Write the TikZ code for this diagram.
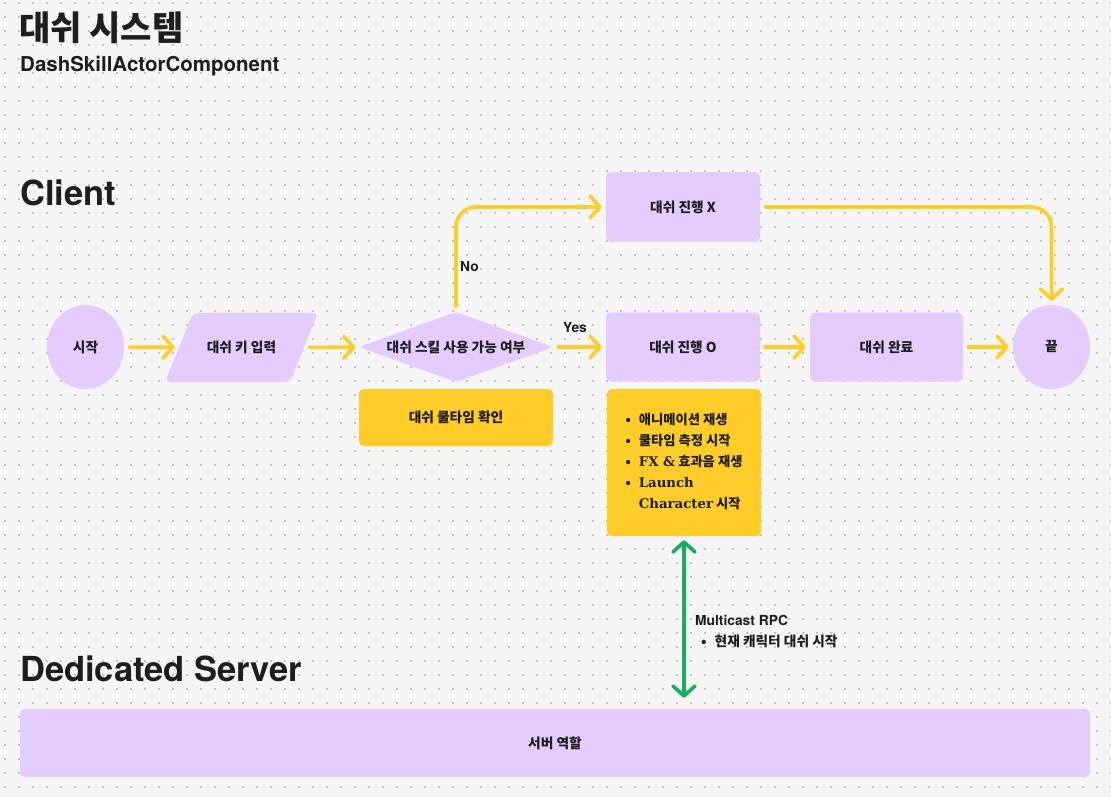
\documentclass[tikz,border=0pt]{standalone}
\usepackage{fontspec}
\setmainfont{Noto Sans CJK KR}
\newfontfamily\latf{TeX Gyre Heros}
\newfontfamily\serf{DejaVu Serif}
\usetikzlibrary{arrows.meta,shapes.geometric,calc}
\definecolor{bgc}{HTML}{F5F5F5}
\definecolor{lil}{HTML}{E4CCFF}
\definecolor{yel}{HTML}{FFCD29}
\definecolor{grn}{HTML}{14AE5C}
\definecolor{ink}{HTML}{1E1E1E}
\definecolor{dotc}{HTML}{C2C2C2}
\begin{document}
\begin{tikzpicture}[x=1pt,y=-1pt,
  lbl/.style={font=\bfseries\fontsize{13.7}{16}\selectfont, text=ink},
  box/.style={lbl, fill=lil, rounded corners=5pt, minimum width=154pt, minimum height=69pt, inner sep=0pt},
  ybox/.style={box, fill=yel},
  oval/.style={lbl, ellipse, fill=lil, minimum width=77pt, minimum height=84pt, inner sep=0pt},
  tip/.style={-{Straight Barb[length=10pt, width=22pt, round]}},
  conn/.style={draw=yel, line width=3.6pt, line cap=round, line join=round, tip, shorten <=5pt, shorten >=4pt},
  gconn/.style={draw=grn, line width=3.6pt, line cap=round, line join=round, {Straight Barb[length=10pt, width=22pt, round]}-{Straight Barb[length=10pt, width=22pt, round]}},
  head/.style={font=\latf\bfseries\fontsize{34.5}{38}\selectfont, text=ink, inner sep=0pt, anchor=base west},
  small/.style={font=\latf\bfseries\fontsize{13.8}{16}\selectfont, text=ink, inner sep=0pt, anchor=base west},
]
\useasboundingbox (0,0) rectangle (1111,797);
\fill[bgc] (0,0) rectangle (1111,797);
\foreach \j in {0,...,56} {
  \fill[dotc] \foreach \i in {0,...,79} { (4.2+14*\i, 2.2+14*\j) rectangle ++(1.6,1.6) };
}

% titles
\node[font=\bfseries\fontsize{34}{38}\selectfont, text=ink, inner sep=0pt, anchor=west] (title) at (19,28) {대쉬 시스템};
\node[font=\latf\bfseries\fontsize{20.5}{24}\selectfont, text=ink, inner sep=0pt, anchor=base west] (sub) at (20,72) {DashSkillActorComponent};
\node[head] (client) at (20,205) {Client};
\node[head] (server) at (20,681) {Dedicated Server};

% nodes
\node[oval] (start) at (85.5,347) {시작};
\fill[lil, rounded corners=5pt] (193,313) -- (318,313) -- (290,382) -- (165,382) -- cycle;
\node[lbl, minimum width=125pt, minimum height=69pt, inner sep=0pt] (input) at (241.5,347.5) {대쉬 키 입력};
\node[lbl, diamond, fill=lil, aspect=2.77, minimum width=194pt, minimum height=70pt, inner sep=0pt, rounded corners=3pt] (check) at (456,347) {대쉬 스킬 사용 가능 여부};
\node[ybox, minimum width=194pt, minimum height=57pt] (cool) at (456,417.5) {대쉬 쿨타임 확인};
\node[box, minimum height=70pt] (dashx) at (683,207) {대쉬 진행 X};
\node[box] (dasho) at (683,347) {대쉬 진행 O};
\node[ybox, minimum height=147pt, font=\bfseries\fontsize{13.3}{21}\selectfont] (list) at (684,462.5) {%
  \begin{tabular}{@{}l@{\hspace{8pt}}l@{}}
  •&애니메이션 재생\\
  •&쿨타임 측정 시작\\
  •&{\serf FX \&} 효과음 재생\\
  •&{\serf Launch}\\
  &{\serf Character} 시작
  \end{tabular}};
\node[box, minimum width=153pt] (done) at (886.5,347) {대쉬 완료};
\node[oval] (end) at (1051.5,347) {끝};
\node[box, minimum width=1070pt, minimum height=68pt] (srv) at (555,743) {서버 역할};

% connectors
\draw[conn] (start) -- (input);
\draw[conn] (input) -- (check);
\draw[conn] (check) -- (dasho);
\draw[conn] (dasho) -- (done);
\draw[conn] (done) -- (end);
\draw[conn, rounded corners=20pt] (check.north) |- (dashx.west);
\draw[conn, rounded corners=20pt] (dashx.east) -| (end.north);
\draw[gconn, shorten <=4pt, shorten >=11pt] (list.south) -- (list.south |- srv.north);

% labels
\node[small] (yes) at (563,332) {Yes};
\node[small] (no) at (460,271) {No};
\node[small, anchor=base west] (rpc) at (695,625) {Multicast RPC};
\node[lbl, anchor=west, inner sep=0pt] (rpcitem) at (701,641) {•\hspace{8pt}현재 캐릭터 대쉬 시작};
\end{tikzpicture}
\end{document}
